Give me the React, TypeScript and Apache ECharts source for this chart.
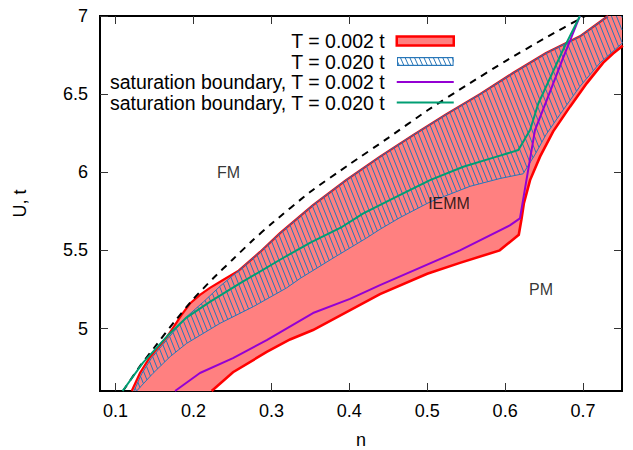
import React, { useEffect, useRef } from "react";
import * as echarts from "echarts";

// ---- axes ----
const xTicks = [0.1, 0.2, 0.3, 0.4, 0.5, 0.6, 0.7];
const yTicks = [5, 5.5, 6, 6.5, 7];

// ---- T = 0.002 t band (red) ----
const redUpperN = [0.1207, 0.1313, 0.1442, 0.166, 0.1852, 0.1955, 0.2083, 0.2211, 0.2379, 0.258, 0.2854, 0.311, 0.3534, 0.3958, 0.4394, 0.4818, 0.5241, 0.5677, 0.61, 0.6525, 0.696, 0.732];
const redUpperU = [4.6, 4.715, 4.818, 4.946, 5.09, 5.16, 5.215, 5.26, 5.31, 5.37, 5.49, 5.61, 5.79, 5.95, 6.1, 6.238, 6.37, 6.5, 6.635, 6.763, 6.87, 7.0];
const redLowerN = [0.2233, 0.2507, 0.294, 0.3239, 0.3534, 0.4394, 0.5, 0.542, 0.593, 0.6175, 0.621, 0.624, 0.632, 0.6448, 0.6615, 0.6833, 0.7047, 0.7257, 0.7385, 0.751];
const redLowerU = [4.6, 4.72, 4.85, 4.93, 4.99, 5.22, 5.35, 5.42, 5.5, 5.6, 5.7, 5.8, 5.95, 6.1, 6.26, 6.42, 6.569, 6.7, 6.76, 6.81];
// where the band's two edges run on past the top-right corner
const redUpperBeyond = [0.76, 7.1];
const redLowerBeyond = [0.76, 6.85];

// ---- T = 0.020 t band (blue hatched) ----
const blueUpperN = [0.1235, 0.1335, 0.146, 0.167, 0.1913, 0.2127, 0.234, 0.258, 0.2854, 0.311, 0.3534, 0.3958, 0.4394, 0.4818, 0.5241, 0.5677, 0.61, 0.6525, 0.696, 0.732];
const blueUpperU = [4.6, 4.71, 4.81, 4.935, 5.076, 5.17, 5.27, 5.37, 5.49, 5.61, 5.79, 5.95, 6.1, 6.238, 6.37, 6.5, 6.635, 6.763, 6.87, 7.0];
const blueLowerN = [0.127, 0.148, 0.17, 0.1913, 0.234, 0.2768, 0.3196, 0.3367, 0.379, 0.4223, 0.4394, 0.465, 0.5036, 0.5549, 0.5934, 0.623, 0.638, 0.6524, 0.6704, 0.6961, 0.7218, 0.751];
const blueLowerU = [4.6, 4.713, 4.82, 4.905, 5.033, 5.14, 5.26, 5.32, 5.45, 5.58, 5.635, 5.71, 5.81, 5.91, 5.96, 5.99, 6.11, 6.24, 6.37, 6.55, 6.7, 6.83];
const blueUpperBeyond = [0.76, 7.1];
const blueLowerBeyond = [0.76, 6.87];

// ---- saturation boundaries ----
const satLowN = [0.1763, 0.2083, 0.2507, 0.294, 0.3534, 0.4009, 0.4394, 0.542, 0.606, 0.619, 0.6383, 0.6533, 0.6743, 0.696];
const satLowU = [4.6, 4.715, 4.81, 4.926, 5.099, 5.19, 5.278, 5.5, 5.66, 5.705, 6.27, 6.46, 6.73, 7.0];
const satHighN = [0.109, 0.135, 0.166, 0.191, 0.221, 0.26, 0.311, 0.35, 0.3909, 0.418, 0.4608, 0.5036, 0.5463, 0.5892, 0.617, 0.632, 0.6426, 0.674, 0.696];
const satHighU = [4.6, 4.78, 4.95, 5.07, 5.17, 5.29, 5.44, 5.55, 5.651, 5.737, 5.844, 5.95, 6.035, 6.1, 6.142, 6.27, 6.44, 6.78, 7.0];

// ---- FM boundary (dashed) ----
const dashN = [0.1095, 0.13, 0.15, 0.175, 0.2, 0.225, 0.25, 0.275, 0.3, 0.35, 0.4, 0.45, 0.5, 0.55, 0.6, 0.65, 0.7025];
const dashU = [4.6, 4.75, 4.88, 5.04, 5.19, 5.32, 5.44, 5.56, 5.67, 5.875, 6.05, 6.22, 6.395, 6.555, 6.71, 6.855, 7.0];

// ---- region labels ----
const regionNames = ["FM", "IEMM", "PM"];
const regionN = [0.245, 0.528, 0.646];
const regionU = [6.0, 5.8, 5.25];

const seriesNames = [
  "T = 0.002 t",
  "T = 0.020 t",
  "saturation boundary, T = 0.002 t",
  "saturation boundary, T = 0.020 t",
];

const RED = "#ff0000";
const PINK = "#ff8080";
const BLUE = "#2776b8";
const PURPLE = "#9400d3";
const TEAL = "#009e73";
const FONT = "Liberation Sans, Arial, sans-serif";

const zip = (a: number[], b: number[]) => a.map((v, i) => [v, b[i]]);

function clipPoly(pts: number[][], r: any): number[][] {
  const x0 = r.x, x1 = r.x + r.width, y0 = r.y, y1 = r.y + r.height;
  const planes = [
    { inside: (p: number[]) => p[0] >= x0, inter: (a: number[], b: number[]) => { const t = (x0 - a[0]) / (b[0] - a[0]); return [x0, a[1] + t * (b[1] - a[1])]; } },
    { inside: (p: number[]) => p[0] <= x1, inter: (a: number[], b: number[]) => { const t = (x1 - a[0]) / (b[0] - a[0]); return [x1, a[1] + t * (b[1] - a[1])]; } },
    { inside: (p: number[]) => p[1] >= y0, inter: (a: number[], b: number[]) => { const t = (y0 - a[1]) / (b[1] - a[1]); return [a[0] + t * (b[0] - a[0]), y0]; } },
    { inside: (p: number[]) => p[1] <= y1, inter: (a: number[], b: number[]) => { const t = (y1 - a[1]) / (b[1] - a[1]); return [a[0] + t * (b[0] - a[0]), y1]; } },
  ];
  let out = pts;
  for (const pl of planes) {
    const input = out;
    out = [];
    for (let i = 0; i < input.length; i++) {
      const cur = input[i];
      const prev = input[(i + input.length - 1) % input.length];
      const ci = pl.inside(cur), pi = pl.inside(prev);
      if (ci) {
        if (!pi) out.push(pl.inter(prev, cur));
        out.push(cur);
      } else if (pi) {
        out.push(pl.inter(prev, cur));
      }
    }
    if (!out.length) break;
  }
  return out;
}

function hatchSegments(poly: number[][], spacing: number, slant: number) {
  const us = poly.map((p) => p[0] - slant * p[1]);
  const umin = Math.min(...us), umax = Math.max(...us);
  const segs: number[][] = [];
  for (let c = Math.ceil(umin / spacing) * spacing; c <= umax; c += spacing) {
    const ys: number[] = [];
    for (let i = 0; i < poly.length; i++) {
      const j = (i + 1) % poly.length;
      const ua = us[i], ub = us[j];
      if ((ua < c && ub >= c) || (ub < c && ua >= c)) {
        const t = (c - ua) / (ub - ua);
        ys.push(poly[i][1] + t * (poly[j][1] - poly[i][1]));
      }
    }
    ys.sort((p, q) => p - q);
    for (let k = 0; k + 1 < ys.length; k += 2) {
      segs.push([c + slant * ys[k], ys[k], c + slant * ys[k + 1], ys[k + 1]]);
    }
  }
  return segs;
}

function hatchIcon() {
  const w = 57, h = 9;
  let d = "";
  for (let x = -6; x < w + 6; x += 4.7) d += `M${x.toFixed(2)} 0L${(x + 4).toFixed(2)} ${h}`;
  const svg = `<svg xmlns="http://www.w3.org/2000/svg" width="${w}" height="${h}" viewBox="0 0 ${w} ${h}"><rect width="${w}" height="${h}" fill="#ffffff"/><path d="${d}" stroke="${BLUE}" stroke-width="1" fill="none"/><rect x="0.6" y="0.6" width="${w - 1.2}" height="${h - 1.2}" fill="none" stroke="${BLUE}" stroke-width="1.2"/></svg>`;
  return "image://data:image/svg+xml;base64," + btoa(svg);
}

export default function App() {
  const ref = useRef<HTMLDivElement>(null);
  useEffect(() => {
    document.body.style.margin = "0";
    if (!ref.current) return;
    const chart = echarts.init(ref.current, null, { renderer: "svg" });

    const axisBase = {
      type: "value",
      axisLine: { show: false },
      splitLine: { show: false },
    };
    const tickStyle = { inside: true, length: 8, lineStyle: { color: "#333", width: 1 } };

    const option: any = {
      animation: false,
      backgroundColor: "#ffffff",
      textStyle: { fontFamily: FONT },
      grid: {
        left: 100, right: 11, top: 16, bottom: 59,
        show: true, borderColor: "#000", borderWidth: 2, backgroundColor: "transparent",
        outerBoundsMode: "none",
      },
      legend: {
        orient: "vertical",
        right: 178,
        top: 31,
        padding: 0,
        itemGap: 0.5,
        itemWidth: 57,
        itemHeight: 9,
        align: "right",
        selectedMode: false,
        textStyle: { fontSize: 19.5, color: "#000", fontFamily: FONT, padding: [0, 7, 0, 0] },
        data: [
          { name: seriesNames[0], icon: "rect", itemStyle: { color: PINK, borderColor: RED, borderWidth: 2.5 } },
          { name: seriesNames[1], icon: hatchIcon() },
          { name: seriesNames[2], itemStyle: { opacity: 0 } },
          { name: seriesNames[3], itemStyle: { opacity: 0 } },
        ],
      },
      xAxis: [
        {
          ...axisBase,
          min: 0.08, max: 0.75, position: "bottom",
          name: "n", nameLocation: "middle", nameGap: 40,
          nameTextStyle: { fontSize: 18, color: "#000", fontFamily: FONT },
          axisTick: { ...tickStyle, customValues: xTicks },
          axisLabel: { fontSize: 18, color: "#000", margin: 11, fontFamily: FONT, customValues: xTicks, formatter: (v: number) => v.toFixed(1) },
        },
        {
          ...axisBase,
          min: 0.08, max: 0.75, position: "top",
          axisTick: { ...tickStyle, customValues: xTicks },
          axisLabel: { show: false, customValues: xTicks },
        },
      ],
      yAxis: [
        {
          ...axisBase,
          min: 4.6, max: 7, position: "left",
          name: "U, t", nameLocation: "middle", nameGap: 71, nameRotate: 90,
          nameTextStyle: { fontSize: 18, color: "#000", fontFamily: FONT },
          axisTick: { ...tickStyle, customValues: yTicks },
          axisLabel: { fontSize: 18, color: "#000", margin: 12, fontFamily: FONT, customValues: yTicks, formatter: (v: number) => String(v) },
        },
        {
          ...axisBase,
          min: 4.6, max: 7, position: "right",
          axisTick: { ...tickStyle, customValues: yTicks },
          axisLabel: { show: false, customValues: yTicks },
        },
      ],
      series: [
        {
          type: "custom",
          name: seriesNames[0],
          coordinateSystem: "cartesian2d",
          xAxisIndex: 0, yAxisIndex: 0,
          data: [[redUpperN[0], redUpperU[0]]],
          itemStyle: { color: PINK, borderColor: RED },
          silent: true,
          renderItem: (params: any, api: any) => {
            if (params.dataIndex !== 0) return null;
            const cs = params.coordSys;
            const up = zip(redUpperN, redUpperU).map((p) => api.coord(p));
            const lo = zip(redLowerN, redLowerU).map((p) => api.coord(p));
            const poly = clipPoly(
              [...up, api.coord(redUpperBeyond), api.coord(redLowerBeyond), ...lo.slice().reverse()],
              cs
            );
            return {
              type: "group",
              children: [
                { type: "polygon", shape: { points: poly }, style: { fill: PINK, stroke: null } },
                { type: "polyline", shape: { points: up }, style: { fill: null, stroke: RED, lineWidth: 2.2 } },
                { type: "polyline", shape: { points: lo }, style: { fill: null, stroke: RED, lineWidth: 2.6 } },
              ],
            };
          },
        },
        {
          type: "custom",
          name: seriesNames[1],
          coordinateSystem: "cartesian2d",
          xAxisIndex: 0, yAxisIndex: 0,
          data: [[blueUpperN[0], blueUpperU[0]]],
          itemStyle: { color: BLUE },
          silent: true,
          renderItem: (params: any, api: any) => {
            if (params.dataIndex !== 0) return null;
            const cs = params.coordSys;
            const up = zip(blueUpperN, blueUpperU).map((p) => api.coord(p));
            const lo = zip(blueLowerN, blueLowerU).map((p) => api.coord(p));
            const poly = clipPoly(
              [...up, api.coord(blueUpperBeyond), api.coord(blueLowerBeyond), ...lo.slice().reverse()],
              cs
            );
            const segs = hatchSegments(poly, 5, 0.4);
            const children: any[] = segs.map((s) => ({
              type: "line",
              shape: { x1: s[0], y1: s[1], x2: s[2], y2: s[3] },
              style: { stroke: BLUE, lineWidth: 1 },
            }));
            children.push({ type: "polyline", shape: { points: up }, style: { fill: null, stroke: BLUE, lineWidth: 1 } });
            children.push({ type: "polyline", shape: { points: lo }, style: { fill: null, stroke: BLUE, lineWidth: 1 } });
            return { type: "group", children };
          },
        },
        {
          type: "line",
          name: "FM boundary",
          data: zip(dashN, dashU),
          symbol: "none",
          smooth: 0.2,
          silent: true,
          lineStyle: { color: "#000", width: 2, type: [7, 6] },
          itemStyle: { color: "#000" },
        },
        {
          type: "line",
          name: seriesNames[2],
          data: zip(satLowN, satLowU),
          symbol: "none",
          silent: true,
          lineStyle: { color: PURPLE, width: 2 },
          itemStyle: { color: PURPLE },
        },
        {
          type: "line",
          name: seriesNames[3],
          data: zip(satHighN, satHighU),
          symbol: "none",
          silent: true,
          lineStyle: { color: TEAL, width: 2 },
          itemStyle: { color: TEAL },
        },
        {
          type: "scatter",
          name: "regions",
          symbolSize: 0,
          silent: true,
          data: regionNames.map((nm, i) => ({ name: nm, value: [regionN[i], regionU[i]] })),
          label: {
            show: true,
            position: "inside",
            formatter: "{b}",
            fontSize: 16,
            color: "#000",
            fontFamily: FONT,
          },
          z: 10,
        },
      ],
    };

    chart.setOption(option);
    return () => chart.dispose();
  }, []);

  return <div ref={ref} style={{ width: 633, height: 450 }} />;
}
